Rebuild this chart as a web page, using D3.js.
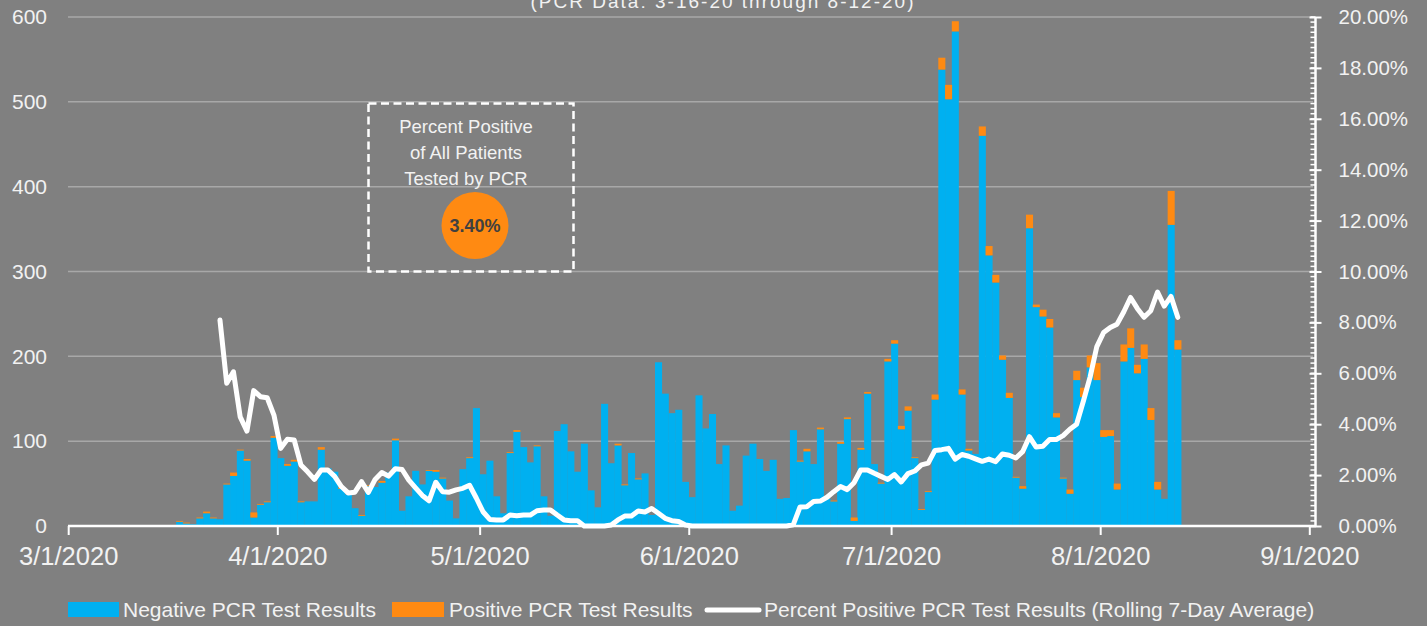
<!DOCTYPE html>
<html>
<head>
<meta charset="utf-8">
<script src="https://cdn.jsdelivr.net/npm/d3@7"></script>
<style>
  html, body { margin: 0; padding: 0; background: #808080; }
  svg text { font-family: "Liberation Sans", Arial, sans-serif; fill: #f2f2f2; }
</style>
</head>
<body>
<svg id="chart" width="1427" height="626"></svg>
<script>
// daily PCR results, first day 3/16/2020
const startDay = "2020-03-16";

const negative = [
  1, 5, 3, 2, 9, 15, 9, 8, 49, 59,
  89, 77, 10, 25, 28, 104, 80, 71, 76, 28,
  29, 29, 90, 68, 64, 44, 37, 21, 12, 47,
  46, 51, 63, 101, 18, 35, 65, 49, 65, 64,
  56, 30, 9, 67, 80, 139, 61, 77, 35, 15,
  86, 111, 93, 75, 94, 35, 12, 112, 120, 88,
  64, 97, 42, 22, 144, 74, 95, 48, 86, 55,
  62, 13, 193, 156, 133, 137, 52, 34, 154, 115,
  132, 73, 95, 18, 24, 83, 97, 79, 65, 78,
  32, 33, 113, 76, 88, 73, 114, 32, 29, 97,
  126, 6, 90, 156, 73, 50, 194, 215, 114, 136,
  80, 19, 40, 149, 538, 503, 583, 155, 89, 85,
  460, 319, 287, 196, 151, 57, 44, 351, 258, 247,
  234, 128, 56, 38, 172, 152, 187, 172, 105, 106,
  43, 194, 210, 180, 197, 125, 43, 32, 355, 208
];

const positive = [
  0, 1, 1, 0, 1, 2, 1, 0, 1, 4,
  1, 2, 6, 1, 1, 2, 0, 2, 2, 1,
  0, 0, 3, 0, 0, 1, 0, 0, 1, 1,
  0, 2, 0, 2, 0, 0, 0, 0, 1, 2,
  1, 0, 0, 0, 1, 0, 0, 0, 0, 0,
  1, 2, 0, 0, 1, 0, 0, 0, 0, 0,
  0, 0, 0, 0, 0, 0, 2, 1, 0, 1,
  0, 0, 0, 0, 0, 0, 0, 0, 0, 0,
  0, 0, 0, 0, 0, 0, 0, 0, 0, 0,
  0, 0, 0, 1, 3, 0, 2, 0, 1, 2,
  2, 4, 2, 2, 0, 1, 3, 4, 4, 5,
  1, 1, 1, 6, 14, 17, 12, 6, 2, 0,
  11, 11, 9, 5, 6, 1, 3, 16, 3, 8,
  10, 5, 1, 5, 11, 11, 14, 20, 8, 7,
  7, 20, 23, 10, 17, 14, 9, 0, 40, 11
];

// rolling 7-day percent positive (in %), nothing for the first week
const rolling = [
  null, null, null, null, null, null, null, 8.09, 5.61, 6.06,
  4.29, 3.73, 5.32, 5.08, 5.04, 4.36, 3.05, 3.41, 3.38, 2.40,
  2.13, 1.83, 2.20, 2.20, 1.95, 1.55, 1.30, 1.33, 1.74, 1.32,
  1.83, 2.10, 1.96, 2.25, 2.22, 1.80, 1.50, 1.20, 0.99, 1.72,
  1.35, 1.33, 1.42, 1.48, 1.60, 1.10, 0.56, 0.26, 0.24, 0.24,
  0.43, 0.40, 0.43, 0.43, 0.60, 0.63, 0.63, 0.43, 0.24, 0.21,
  0.21, 0, 0, 0, 0, 0.04, 0.24, 0.39, 0.39, 0.59,
  0.55, 0.69, 0.50, 0.30, 0.21, 0.18, 0.04, 0, 0, 0,
  0, 0, 0, 0, 0, 0, 0, 0, 0, 0,
  0, 0, 0.05, 0.75, 0.76, 0.96, 0.98, 1.13, 1.35, 1.55,
  1.43, 1.70, 2.20, 2.20, 2.07, 1.95, 1.83, 2.02, 1.73, 2.06,
  2.16, 2.40, 2.47, 2.97, 3.00, 3.05, 2.63, 2.81, 2.74, 2.64,
  2.54, 2.63, 2.53, 2.83, 2.78, 2.67, 2.92, 3.51, 3.10, 3.13,
  3.40, 3.40, 3.55, 3.80, 4.00, 4.90, 5.85, 7.05, 7.60, 7.80,
  7.93, 8.42, 8.98, 8.55, 8.20, 8.46, 9.19, 8.64, 9.02, 8.20
];

const leftTicks = [0, 100, 200, 300, 400, 500, 600];
const rightTicks = [0, 0.02, 0.04, 0.06, 0.08, 0.10, 0.12, 0.14, 0.16, 0.18, 0.20];
const monthTicks = ["2020-03-01", "2020-04-01", "2020-05-01", "2020-06-01", "2020-07-01", "2020-08-01", "2020-09-01"];
const overallPositive = "3.40%";
const subtitle = "(PCR Data: 3-16-20 through 8-12-20)";
const noteLines = ["Percent Positive", "of All Patients", "Tested by PCR"];
const legendItems = ["Negative PCR Test Results", "Positive PCR Test Results", "Percent Positive PCR Test Results (Rolling 7-Day Average)"];

const BLUE = "#00b0f0";
const ORANGE = "#ff8a12";

const svg = d3.select("#chart");
const parse = d3.utcParse("%Y-%m-%d");
const DAY = 864e5;
const t0 = parse(startDay);

const rows = negative.map((n, i) => ({
  date: new Date(t0.getTime() + i * DAY),
  neg: n,
  pos: positive[i],
  pct: rolling[i] == null ? null : rolling[i] / 100
}));

// scales
const x = d3.scaleUtc()
  .domain([parse("2020-03-01"), parse("2020-09-01")])
  .range([68.2, 1309.3]);
const y = d3.scaleLinear().domain([0, 600]).range([526, 17]);
const yPct = d3.scaleLinear().domain([0, 0.2]).range([526, 17]);

svg.append("rect").attr("width", 1427).attr("height", 626).attr("fill", "#808080");

// subtitle, its upper half is cut by the top edge like in the source
svg.append("text")
  .attr("x", 722).attr("y", 8)
  .attr("text-anchor", "middle")
  .attr("textLength", 383).attr("lengthAdjust", "spacing")
  .style("font-size", "19px")
  .text(subtitle);

// gridlines
svg.append("g")
  .selectAll("line")
  .data(leftTicks.slice(1))
  .join("line")
  .attr("x1", 68).attr("x2", 1313)
  .attr("y1", d => y(d)).attr("y2", d => y(d))
  .attr("stroke", "#a8a8a8").attr("stroke-width", 1.5);

// left axis labels
const leftAxis = svg.append("g")
  .attr("transform", "translate(47,0)")
  .call(d3.axisLeft(y).tickValues(leftTicks).tickSize(0).tickPadding(0));
leftAxis.select(".domain").remove();
leftAxis.selectAll("text").style("font-size", "21px").attr("fill", "#f2f2f2");

// stacked bars
const dayW = x(new Date(t0.getTime() + DAY)) - x(t0);
const bars = svg.append("g");
bars.selectAll("rect.neg")
  .data(rows)
  .join("rect")
  .attr("class", "neg")
  .attr("x", d => x(d.date))
  .attr("width", dayW + 0.3)
  .attr("y", d => y(d.neg))
  .attr("height", d => y(0) - y(d.neg))
  .attr("fill", BLUE);
bars.selectAll("rect.pos")
  .data(rows.filter(d => d.pos > 0))
  .join("rect")
  .attr("class", "pos")
  .attr("x", d => x(d.date))
  .attr("width", dayW + 0.3)
  .attr("y", d => y(d.neg + d.pos))
  .attr("height", d => y(d.neg) - y(d.neg + d.pos))
  .attr("fill", ORANGE);

// x axis
const xAxis = svg.append("g")
  .attr("transform", "translate(0,526)")
  .call(d3.axisBottom(x)
    .tickValues(monthTicks.map(parse))
    .tickFormat(d3.utcFormat("%-m/%-d/%Y"))
    .tickSize(9).tickPadding(12));
xAxis.select(".domain")
  .attr("d", "M68,0H1316")
  .attr("stroke", "#fff").attr("stroke-width", 2.5);
xAxis.selectAll(".tick line").attr("stroke", "#fff").attr("stroke-width", 2);
xAxis.selectAll("text").style("font-size", "25.5px").attr("fill", "#f2f2f2");

// right axis with minor ticks
const rightG = svg.append("g").attr("transform", "translate(1315.5,0)");
rightG.selectAll("line.minor")
  .data(d3.range(0, 101).map(k => k * 0.002))
  .join("line")
  .attr("class", "minor")
  .attr("x1", -5).attr("x2", 0)
  .attr("y1", d => yPct(d)).attr("y2", d => yPct(d))
  .attr("stroke", "#fff").attr("stroke-width", 1.5);
const rightAxis = rightG.call(d3.axisRight(yPct)
  .tickValues(rightTicks)
  .tickFormat(d3.format(".2%"))
  .tickSize(6).tickPadding(17));
rightAxis.select(".domain").attr("d", "M0,17V526").attr("stroke", "#fff").attr("stroke-width", 2.5);
rightAxis.selectAll(".tick line").attr("x1", -6).attr("stroke", "#fff").attr("stroke-width", 2);
rightAxis.selectAll("text").style("font-size", "20.5px").attr("fill", "#f2f2f2");

// rolling percent line
const line = d3.line()
  .defined(d => d.pct != null)
  .x(d => x(d.date) + dayW / 2)
  .y(d => yPct(d.pct));
svg.append("path")
  .datum(rows)
  .attr("d", line)
  .attr("fill", "none")
  .attr("stroke", "#fff")
  .attr("stroke-width", 5)
  .attr("stroke-linejoin", "round")
  .attr("stroke-linecap", "round");

// annotation box
const note = svg.append("g");
note.append("rect")
  .attr("x", 368.5).attr("y", 103.5)
  .attr("width", 205).attr("height", 168)
  .attr("fill", "none")
  .attr("stroke", "#fff").attr("stroke-width", 2.5)
  .attr("stroke-dasharray", "8,4.5");
note.selectAll("text.note")
  .data(noteLines)
  .join("text")
  .attr("class", "note")
  .attr("x", 466).attr("y", (d, i) => 133 + i * 26)
  .attr("text-anchor", "middle")
  .style("font-size", "18.5px")
  .text(d => d);
note.append("circle")
  .attr("cx", 475).attr("cy", 225.5).attr("r", 33.5)
  .attr("fill", ORANGE);
note.append("text")
  .attr("x", 475).attr("y", 232)
  .attr("text-anchor", "middle")
  .style("font-size", "18px").style("font-weight", "bold")
  .style("fill", "#404040")
  .text(overallPositive);

// legend
const legend = svg.append("g");
const lx = [68, 392, 705];
legend.append("rect").attr("x", lx[0]).attr("y", 602).attr("width", 51).attr("height", 15).attr("fill", BLUE);
legend.append("rect").attr("x", lx[1]).attr("y", 602).attr("width", 52).attr("height", 15).attr("fill", ORANGE);
legend.append("line")
  .attr("x1", lx[2] + 2).attr("x2", lx[2] + 54)
  .attr("y1", 610).attr("y2", 610)
  .attr("stroke", "#fff").attr("stroke-width", 5).attr("stroke-linecap", "round");
legend.selectAll("text.leg")
  .data(legendItems)
  .join("text")
  .attr("class", "leg")
  .attr("x", (d, i) => [123, 449, 764][i])
  .attr("y", 617)
  .style("font-size", "21px")
  .text(d => d);
</script>
</body>
</html>
